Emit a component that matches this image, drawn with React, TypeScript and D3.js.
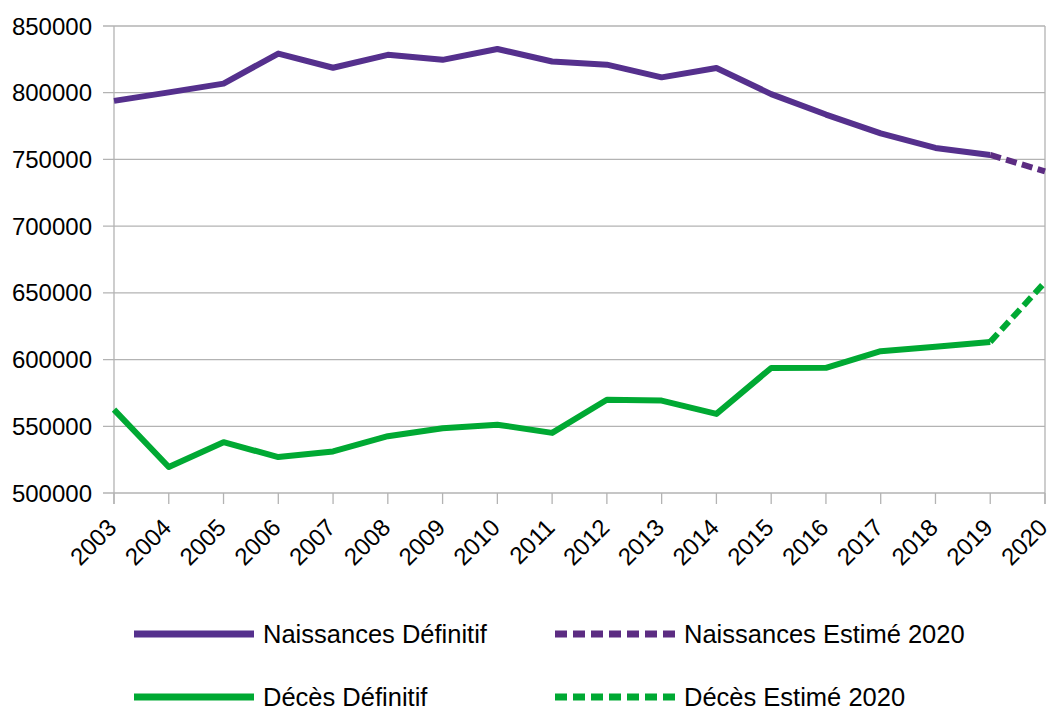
import React from "react";
import * as d3 from "d3";

const years = [2003, 2004, 2005, 2006, 2007, 2008, 2009, 2010, 2011, 2012, 2013, 2014, 2015, 2016, 2017, 2018, 2019, 2020];
const naissancesDef = [793893, 800240, 806822, 829352, 818705, 828404, 824641, 832799, 823394, 821047, 811510, 818565, 798948, 783640, 769553, 758590, 753383];
const naissancesEst = [753383, 741000];
const decesDef = [562467, 519470, 538081, 526920, 531162, 542575, 548541, 551218, 545057, 569868, 569236, 559293, 593680, 593865, 606274, 609648, 613243];
const decesEst = [613243, 658000];
const yTicks = [500000, 550000, 600000, 650000, 700000, 750000, 800000, 850000];
const legendItems = [
  { label: "Naissances Définitif", color: "#55308d", dashed: false },
  { label: "Naissances Estimé 2020", color: "#5c2c82", dashed: true },
  { label: "Décès Définitif", color: "#00a933", dashed: false },
  { label: "Décès Estimé 2020", color: "#00a933", dashed: true },
];

export default function App() {
  const W = 1053, H = 707;
  const left = 114, right = 1045, top = 26, bottom = 493;
  const x = d3.scaleLinear().domain([2003, 2020]).range([left, right]);
  const y = d3.scaleLinear().domain([500000, 850000]).range([bottom, top]);
  const line = d3.line<[number, number]>().x(d => x(d[0])).y(d => y(d[1]));
  const defPts = (arr: number[]) => arr.map((v, i) => [years[i], v] as [number, number]);
  const estPts = (arr: number[]) => arr.map((v, i) => [2019 + i, v] as [number, number]);
  const font = "'Liberation Sans', Arial, sans-serif";
  const grid = "#b3b3b3";
  const dash = "11 5.5";
  return (
    <svg width={W} height={H} style={{ position: "absolute", left: 0, top: 0, background: "#fff" }} fontFamily={font}>
      {yTicks.map(t => (
        <g key={t}>
          <line x1={left - 11} x2={right} y1={y(t)} y2={y(t)} stroke={grid} strokeWidth={1.3} />
          <text x={92} y={y(t)} dy="0.36em" textAnchor="end" fontSize={24} fill="#000">{t}</text>
        </g>
      ))}
      <line x1={left} x2={left} y1={top} y2={bottom + 11} stroke={grid} strokeWidth={1.3} />
      <line x1={right} x2={right} y1={top} y2={bottom + 11} stroke={grid} strokeWidth={1.3} />
      {years.map(yr => (
        <g key={yr}>
          <line x1={x(yr)} x2={x(yr)} y1={bottom} y2={bottom + 11} stroke={grid} strokeWidth={1.3} />
          <text transform={`translate(${x(yr) + 4},${bottom + 36}) rotate(-45)`} textAnchor="end" fontSize={24} fill="#000">{yr}</text>
        </g>
      ))}
      <path d={line(defPts(naissancesDef)) || ""} fill="none" stroke={legendItems[0].color} strokeWidth={6} strokeLinejoin="round" />
      <path d={line(estPts(naissancesEst)) || ""} fill="none" stroke={legendItems[1].color} strokeWidth={6} strokeDasharray={dash} />
      <path d={line(defPts(decesDef)) || ""} fill="none" stroke={legendItems[2].color} strokeWidth={6} strokeLinejoin="round" />
      <path d={line(estPts(decesEst)) || ""} fill="none" stroke={legendItems[3].color} strokeWidth={6} strokeDasharray={dash} />
      {legendItems.map((it, i) => {
        const col = i % 2, row = Math.floor(i / 2);
        const lx = col === 0 ? 134 : 555;
        const ly = row === 0 ? 634 : 697;
        return (
          <g key={it.label}>
            <line x1={lx} x2={lx + 120} y1={ly} y2={ly} stroke={it.color} strokeWidth={7} strokeDasharray={it.dashed ? "12 6" : undefined} />
            <text x={lx + 129} y={ly} dy="0.36em" fontSize={25.5} fill="#000">{it.label}</text>
          </g>
        );
      })}
    </svg>
  );
}
